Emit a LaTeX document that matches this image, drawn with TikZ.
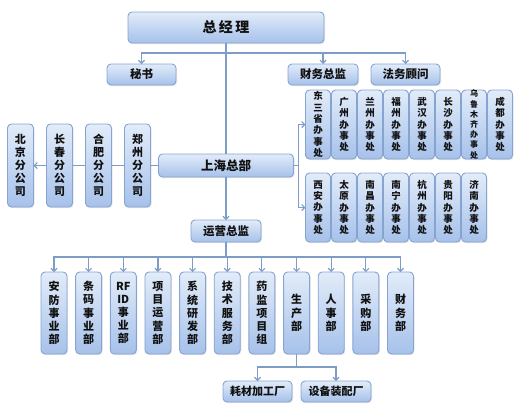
\documentclass[tikz,border=0pt]{standalone}
\usepackage{fontspec}
\setmainfont{Noto Sans CJK SC}
\usepackage{xcolor}
\usetikzlibrary{positioning, arrows.meta, backgrounds, calc, shadows}
\definecolor{cTop}{HTML}{E2ECF9}
\definecolor{cBot}{HTML}{A6C1EA}
\definecolor{cEdge}{HTML}{86A4D2}
\definecolor{cLine}{HTML}{7E9DC6}
\definecolor{cText}{HTML}{111111}
\tikzset{
  box/.style={
    rectangle, rounded corners=4pt,
    top color=cTop, bottom color=cBot,
    draw=cEdge, line width=0.9pt,
    align=center, inner sep=0pt, outer sep=0pt, text=cText,
    drop shadow={opacity=0.2, shadow xshift=1pt, shadow yshift=-1.2pt}
  },
  hbox/.style 2 args={
    box, minimum width=#1, minimum height=#2,
    font=\fontsize{11.5}{13}\selectfont\bfseries
  },
  branch/.style={
    box, minimum width=26pt, minimum height=83pt,
    font=\fontsize{11}{13}\selectfont\bfseries
  },
  office/.style={
    box, minimum width=25pt, minimum height=69pt,
    font=\fontsize{9.5}{11.3}\selectfont\bfseries
  },
  dept/.style={
    box, minimum width=26pt, minimum height=82pt,
    font=\fontsize{11}{13.2}\selectfont\bfseries
  },
  line/.style={draw=cLine, line width=1.1pt},
  arr/.style={line, -{Straight Barb[length=3pt, width=6pt]}}
}

\begin{document}
\begin{tikzpicture}[x=1pt, y=-1pt]
\useasboundingbox (0,0) rectangle (517,410);

%% ── Top level ────────────────────────────────────────────────────

% General manager
\node[hbox={196pt}{31pt}, font=\fontsize{14}{16}\selectfont\bfseries] (gm) at (226,27.5) {总\,经\,理};

% Secretary, finance director, legal advisor
\node[hbox={69pt}{21pt}] (ms) at (141.5,74.5) {秘书};
\node[hbox={70pt}{21pt}] (cw) at (323,74.5) {财务总监};
\node[hbox={69pt}{21pt}, right=13pt of cw] (fw) {法务顾问};

% Shanghai headquarters
\node[hbox={135pt}{23pt}, font=\fontsize{12.5}{14}\selectfont\bfseries] (sh) at (226,165.5) {上海总部};

%% ── Branch companies ─────────────────────────────────────────────
\node[branch, left=8pt of sh] (zz) {郑\\州\\分\\公\\司};
\node[branch, left=13pt of zz] (hf) {合\\肥\\分\\公\\司};
\node[branch, left=13pt of hf] (cc) {长\\春\\分\\公\\司};
\node[branch, left=13pt of cc] (bj) {北\\京\\分\\公\\司};

%% ── Offices, top row ─────────────────────────────────────────────
\node[office] (dsz) at (318,124.5) {东\\三\\省\\办\\事\\处};
\node[office, right=1pt of dsz] (gz) {广\\州\\办\\事\\处};
\node[office, right=1pt of gz] (lz) {兰\\州\\办\\事\\处};
\node[office, right=1pt of lz] (fz) {福\\州\\办\\事\\处};
\node[office, right=1pt of fz] (wh) {武\\汉\\办\\事\\处};
\node[office, right=1pt of wh] (cs) {长\\沙\\办\\事\\处};
\node[office, right=1pt of cs, font=\fontsize{8}{10.2}\selectfont\bfseries] (wlmq) {乌\\鲁\\木\\齐\\办\\事\\处};
\node[office, right=1pt of wlmq] (cd) {成\\都\\办\\事\\处};

%% ── Offices, bottom row ──────────────────────────────────────────
\node[office] (xa) at (318,207.5) {西\\安\\办\\事\\处};
\node[office, right=1pt of xa] (ty) {太\\原\\办\\事\\处};
\node[office, right=1pt of ty] (nc) {南\\昌\\办\\事\\处};
\node[office, right=1pt of nc] (nn) {南\\宁\\办\\事\\处};
\node[office, right=1pt of nn] (hz) {杭\\州\\办\\事\\处};
\node[office, right=1pt of hz] (gy) {贵\\阳\\办\\事\\处};
\node[office, right=1pt of gy] (jn) {济\\南\\办\\事\\处};

%% ── Operations ───────────────────────────────────────────────────
\node[hbox={70pt}{22pt}, below=43pt of sh] (yy) {运营总监};

% Departments
\node[dept] (af) at (54,313) {安\\防\\事\\业\\部};
\node[dept, right=8.65pt of af] (tm) {条\\码\\事\\业\\部};
\node[dept, right=8.65pt of tm] (rf) {RF\\ID\\事\\业\\部};
\node[dept, right=8.65pt of rf] (xm) {项\\目\\运\\营\\部};
\node[dept, right=8.65pt of xm] (xt) {系\\统\\研\\发\\部};
\node[dept, right=8.65pt of xt] (js) {技\\术\\服\\务\\部};
\node[dept, right=8.65pt of js] (yj) {药\\监\\项\\目\\组};
\node[dept, right=8.65pt of yj] (sc) {生\\产\\部};
\node[dept, right=8.65pt of sc] (rs) {人\\事\\部};
\node[dept, right=8.65pt of rs] (cg) {采\\购\\部};
\node[dept, right=8.65pt of cg] (cwb) {财\\务\\部};

% Factories
\node[hbox={69pt}{21pt}, font=\fontsize{11}{13}\selectfont\bfseries] (hc) at (257.5,391.5) {耗材加工厂};
\node[hbox={70pt}{21pt}, font=\fontsize{11}{13}\selectfont\bfseries, right=9pt of hc] (sb) {设备装配厂};

%% ── Connectors ───────────────────────────────────────────────────

% general manager → staff
\coordinate (tb) at ($(gm.south)+(0,10)$);
\draw[line] (gm.south) -- (sh.north);
\draw[arr] (tb) -| (ms.north);
\draw[arr] (tb) -| (cw.north);
\draw[arr] (tb) -| (fw.north);

% headquarters → branch companies (behind the boxes)
\begin{scope}[on background layer]
  \draw[arr] (sh.west) -- (bj.east);
\end{scope}

% headquarters → offices
\draw[line] (sh.east) -- ++(5,0) coordinate (ob);
\draw[arr] (ob) |- (dsz.west);
\draw[arr] (ob) |- (xa.west);

% headquarters → operations
\draw[arr] (sh.south) -- (yy.north);

% operations → departments
\coordinate (yb) at ($(yy.south)+(0,15)$);
\draw[line] (yy.south) -- (yb);
\foreach \d in {af,tm,rf,xm,xt,js,yj,sc,rs,cg,cwb}
  \draw[arr] (yb) -| (\d.north);

% production → factories
\draw[line] (sc.south) -- ++(0,13) coordinate (pb);
\draw[arr] (pb) -| (hc.north);
\draw[arr] (pb) -| (sb.north);

\end{tikzpicture}
\end{document}
